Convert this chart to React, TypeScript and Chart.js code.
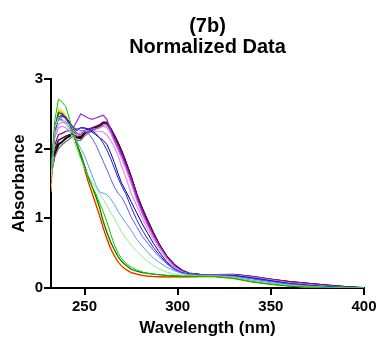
import React, { useEffect, useRef } from "react";
import { Chart, registerables } from "chart.js";

Chart.register(...registerables);

const wavelengths = [232,234,236,238,240,242,244,246,248,250,252,254,256,258,260,262,264,266,268,270,272,275,278,281,284,287,290,294,298,302,306,312,320,330,340,350,360,370,380,390,400];

const red = [1.5,2.2,2.5,2.5,2.42,2.35,2.2,2.04,1.88,1.7,1.52,1.36,1.2,1.04,0.86,0.7,0.56,0.46,0.37,0.31,0.27,0.22,0.2,0.18,0.17,0.165,0.16,0.16,0.16,0.16,0.16,0.165,0.165,0.14,0.09,0.055,0.03,0.015,0.005,0,0];
const orange = [1.45,2.25,2.55,2.52,2.45,2.36,2.22,2.06,1.9,1.72,1.54,1.38,1.22,1.06,0.88,0.72,0.58,0.47,0.38,0.31,0.27,0.22,0.2,0.18,0.17,0.165,0.16,0.155,0.155,0.155,0.16,0.16,0.16,0.135,0.085,0.05,0.028,0.013,0.004,0,0];
const yellow = [1.38,2.2,2.58,2.55,2.48,2.38,2.24,2.08,1.91,1.74,1.55,1.4,1.24,1.08,0.9,0.74,0.6,0.48,0.39,0.32,0.28,0.23,0.2,0.185,0.175,0.165,0.16,0.16,0.155,0.155,0.16,0.16,0.16,0.135,0.085,0.05,0.028,0.013,0.004,0,0];
const green = [1.7,2.4,2.71,2.67,2.6,2.42,2.22,2.04,1.88,1.74,1.58,1.46,1.36,1.22,1.1,0.95,0.78,0.62,0.5,0.42,0.36,0.3,0.26,0.23,0.21,0.2,0.19,0.18,0.175,0.17,0.17,0.17,0.165,0.14,0.09,0.055,0.03,0.015,0.005,0,0];
const darkGreen = [1.6,2.3,2.52,2.5,2.44,2.36,2.22,2.06,1.92,1.76,1.6,1.46,1.32,1.16,0.96,0.8,0.66,0.55,0.45,0.38,0.33,0.27,0.24,0.22,0.21,0.2,0.19,0.18,0.175,0.17,0.17,0.17,0.165,0.145,0.095,0.06,0.035,0.018,0.006,0,0];
const lightGreen = [1.6,2.3,2.45,2.43,2.36,2.26,2.12,1.98,1.84,1.72,1.62,1.52,1.44,1.36,1.28,1.18,1.08,1.0,0.9,0.8,0.72,0.62,0.53,0.45,0.38,0.32,0.27,0.23,0.2,0.185,0.18,0.175,0.17,0.15,0.1,0.065,0.04,0.02,0.008,0.002,0];
const lightBlue = [1.6,2.3,2.42,2.4,2.36,2.3,2.2,2.1,2.0,1.9,1.76,1.62,1.48,1.38,1.36,1.34,1.28,1.2,1.1,1.02,0.94,0.83,0.7,0.6,0.51,0.43,0.37,0.3,0.25,0.21,0.19,0.18,0.175,0.16,0.11,0.075,0.045,0.025,0.01,0.003,0];
const slateBlue = [1.6,2.3,2.42,2.42,2.38,2.35,2.3,2.28,2.26,2.25,2.22,2.15,2.06,1.94,1.82,1.7,1.57,1.45,1.36,1.3,1.2,1.02,0.88,0.74,0.64,0.54,0.45,0.35,0.27,0.22,0.2,0.185,0.18,0.17,0.13,0.09,0.055,0.03,0.012,0.004,0];
const blue = [1.6,2.3,2.45,2.48,2.44,2.38,2.3,2.28,2.3,2.29,2.28,2.26,2.22,2.16,2.08,1.98,1.86,1.72,1.58,1.46,1.36,1.16,0.98,0.83,0.7,0.58,0.48,0.36,0.27,0.22,0.2,0.185,0.18,0.175,0.14,0.1,0.06,0.035,0.015,0.005,0];
const darkBlue = [1.6,2.28,2.42,2.46,2.45,2.38,2.3,2.26,2.3,2.3,2.28,2.24,2.2,2.16,2.12,2.06,1.94,1.8,1.64,1.5,1.4,1.24,1.08,0.92,0.78,0.64,0.52,0.38,0.28,0.22,0.2,0.185,0.18,0.18,0.145,0.105,0.065,0.04,0.018,0.006,0];
const violet = [1.55,2.2,2.35,2.38,2.36,2.3,2.22,2.2,2.24,2.25,2.26,2.26,2.25,2.25,2.24,2.2,2.12,2.02,1.9,1.74,1.6,1.36,1.18,1.0,0.84,0.7,0.57,0.42,0.3,0.23,0.2,0.185,0.18,0.18,0.15,0.11,0.07,0.045,0.02,0.007,0];
const orchid = [1.55,2.15,2.3,2.32,2.3,2.25,2.22,2.18,2.2,2.24,2.26,2.28,2.29,2.3,2.32,2.3,2.22,2.1,1.98,1.85,1.72,1.5,1.26,1.06,0.89,0.74,0.6,0.44,0.32,0.24,0.2,0.188,0.182,0.185,0.155,0.115,0.075,0.05,0.025,0.008,0];
const purple = [1.55,2.2,2.45,2.48,2.44,2.36,2.3,2.4,2.5,2.47,2.44,2.42,2.44,2.46,2.48,2.42,2.27,2.12,2.0,1.9,1.76,1.55,1.3,1.08,0.9,0.74,0.6,0.44,0.32,0.24,0.2,0.19,0.185,0.19,0.16,0.12,0.08,0.055,0.03,0.01,0];
const darkMagenta = [1.7,2.05,2.2,2.22,2.25,2.26,2.28,2.22,2.2,2.26,2.28,2.3,2.32,2.34,2.38,2.36,2.28,2.17,2.06,1.94,1.8,1.58,1.34,1.13,0.95,0.78,0.62,0.45,0.33,0.25,0.21,0.19,0.185,0.19,0.16,0.12,0.085,0.06,0.035,0.015,0];
const gray = [1.62,1.88,2.0,2.06,2.1,2.14,2.18,2.12,2.12,2.18,2.22,2.25,2.28,2.3,2.34,2.34,2.26,2.16,2.05,1.93,1.79,1.57,1.33,1.12,0.94,0.77,0.61,0.44,0.32,0.25,0.21,0.19,0.185,0.19,0.16,0.12,0.085,0.06,0.035,0.015,0];
const darkPurple = [1.68,1.98,2.12,2.15,2.18,2.2,2.24,2.18,2.17,2.23,2.26,2.29,2.31,2.34,2.38,2.38,2.29,2.19,2.08,1.96,1.82,1.6,1.35,1.14,0.96,0.79,0.63,0.46,0.34,0.26,0.21,0.19,0.185,0.19,0.16,0.125,0.09,0.065,0.04,0.018,0];
const black = [1.65,1.92,2.06,2.1,2.15,2.18,2.22,2.16,2.15,2.22,2.25,2.28,2.3,2.33,2.37,2.37,2.28,2.18,2.07,1.95,1.81,1.58,1.33,1.13,0.95,0.78,0.62,0.45,0.33,0.25,0.21,0.19,0.185,0.19,0.16,0.12,0.085,0.06,0.035,0.015,0];

const seriesList: [string, number[], string, number][] = [
  ["green", green, "#00c800", 1],
  ["lightGreen", lightGreen, "#90ee90", 1],
  ["lightBlue", lightBlue, "#5a9cf5", 1],
  ["slateBlue", slateBlue, "#5a5af5", 1],
  ["blue", blue, "#1e1ee6", 1],
  ["darkBlue", darkBlue, "#00008c", 1],
  ["violet", violet, "#e68cf0", 1.2],
  ["orchid", orchid, "#c86edc", 1],
  ["purple", purple, "#a028e6", 1.2],
  ["darkGreen", darkGreen, "#006e00", 1.2],
  ["red", red, "#ff0000", 1],
  ["yellow", yellow, "#e6e600", 1],
  ["orange", orange, "#ff9600", 1.2],
  ["darkMagenta", darkMagenta, "#800080", 1.2],
  ["gray", gray, "#707070", 1.2],
  ["darkPurple", darkPurple, "#3c0032", 1.5],
  ["black", black, "#000000", 2],
];

const xTicks = [250, 300, 350, 400];
const titleLines = ["(7b)", "Normalized Data"];

export default function App() {
  const ref = useRef<HTMLCanvasElement | null>(null);
  useEffect(() => {
    if (!ref.current) return;
    const family = 'Arial, "Liberation Sans", sans-serif';
    Chart.defaults.font.family = family;
    const chart = new Chart(ref.current, {
      type: "line",
      data: {
        datasets: seriesList.map(([name, vals, color, w]) => ({
          label: name,
          data: wavelengths.map((x, i) => ({ x, y: vals[i] })),
          borderColor: color,
          backgroundColor: color,
          borderWidth: w,
          pointRadius: 0,
          tension: 0,
          fill: false,
        })),
      },
      options: {
        animation: false,
        responsive: false,
        devicePixelRatio: 1,
        layout: { padding: { left: 0, right: 14, top: 0, bottom: 0 } },
        plugins: {
          legend: { display: false },
          tooltip: { enabled: false },
          title: {
            display: true,
            text: titleLines,
            fullSize: false,
            color: "#000",
            font: { size: 20, weight: "bold", lineHeight: 1.05, family },
            padding: { top: 16, bottom: 21 },
          },
        },
        scales: {
          x: {
            type: "linear",
            min: 232,
            max: 400,
            afterBuildTicks: (s: any) => {
              s.ticks = xTicks.map((v) => ({ value: v }));
            },
            afterFit: (s: any) => {
              s.height = 50;
              s.paddingLeft = 0;
              s.paddingRight = 0;
            },
            grid: { drawOnChartArea: false, drawTicks: true, tickLength: 7, tickWidth: 2, tickColor: "#000", color: "#000", lineWidth: 2 },
            border: { display: true, width: 2, color: "#000" },
            ticks: { color: "#000", padding: 3, font: { size: 15, weight: "bold", family }, maxRotation: 0 },
            title: { display: true, text: "Wavelength (nm)", color: "#000", font: { size: 17, weight: "bold", family, lineHeight: 1.1 }, padding: { top: 0, bottom: 0 } },
          },
          y: {
            type: "linear",
            min: 0,
            max: 3,
            ticks: { stepSize: 1, color: "#000", padding: 1, font: { size: 15, weight: "bold", family } },
            afterFit: (s: any) => {
              s.width = 51;
            },
            grid: { drawOnChartArea: false, drawTicks: true, tickLength: 7, tickWidth: 2, tickColor: "#000", color: "#000", lineWidth: 2 },
            border: { display: true, width: 2, color: "#000" },
            title: { display: true, text: "Absorbance", color: "#000", font: { size: 17, weight: "bold", family }, padding: { top: 9, bottom: 0 } },
          },
        },
      } as any,
    });
    return () => chart.destroy();
  }, []);
  return (
    <div style={{ position: "fixed", left: 0, top: 0, width: 378, height: 338, background: "#fff" }}>
      <canvas ref={ref} width={378} height={338} style={{ width: 378, height: 338, display: "block" }} />
    </div>
  );
}
